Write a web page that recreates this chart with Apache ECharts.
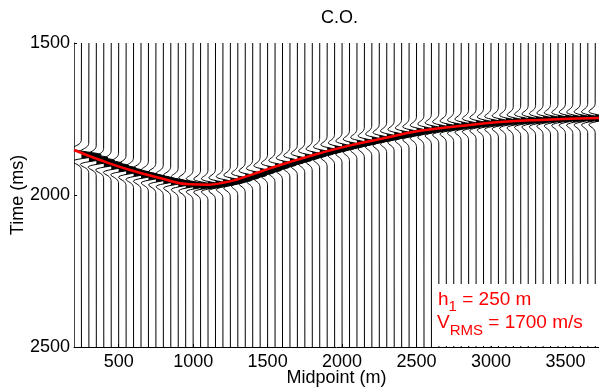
<!DOCTYPE html>
<html><head><meta charset="utf-8">
<script src="https://cdn.jsdelivr.net/npm/echarts@6/dist/echarts.min.js"></script>
<style>html,body{margin:0;padding:0;background:#fff}#c{width:599px;height:387px}</style>
</head><body><div id="c"></div>
<script>
// Trace midpoints (m)
const traceMidpoints = [250,300,350,400,450,500,550,600,650,700,750,800,850,900,950,1000,1050,1100,1150,1200,1250,1300,1350,1400,1450,1500,1550,1600,1650,1700,1750,1800,1850,1900,1950,2000,2050,2100,2150,2200,2250,2300,2350,2400,2450,2500,2550,2600,2650,2700,2750,2800,2850,2900,2950,3000,3050,3100,3150,3200,3250,3300,3350,3400,3450,3500,3550,3600,3650,3700];
// Reflection time on each trace (ms)
const eventTimes = [1868,1878,1887,1896,1904,1912,1920,1927,1933,1939,1945,1951,1956,1961,1965,1968,1969,1968,1965,1961,1956,1950,1942,1934,1925,1917,1908,1900,1892,1885,1877,1870,1863,1856,1850,1844,1838,1832,1827,1821,1816,1811,1806,1801,1797,1792,1788,1784,1781,1778,1775,1772,1770,1767,1765,1763,1761,1759,1758,1756,1755,1754,1752,1751,1750,1749,1749,1748,1748,1747];
// Relative amplitude of each trace
const traceAmps = [1.4,1.35,1.3,1.3,1.25,1.25,1.2,1.2,1.2,1.15,1.15,1.15,1.15,1.1,1.1,1.1,1.1,1.05,1.05,1.05,1.05,1.0,1.0,1.0,1.0,1.0,1.0,1.0,1.0,1.0,1.0,1.0,1.0,1.0,1.0,1.0,1.0,1.0,1.0,1.0,1.0,1.0,1.0,1.0,1.0,1.0,1.0,1.0,1.0,1.0,1.0,1.0,1.0,1.0,1.0,1.0,1.0,1.0,1.0,1.0,1.0,1.0,1.0,1.0,1.0,1.0,1.0,1.0,1.0,1.0];
// Wavelet samples: lag (ms) and amplitude
const waveletLags = [-48,-45.6,-43.2,-40.8,-38.4,-36,-33.6,-31.2,-28.8,-26.4,-24,-21.6,-19.2,-16.8,-14.4,-12,-9.6,-7.2,-4.8,-2.4,0,2.4,4.8,7.2,9.6,12,14.4,16.8,19.2,21.6,24,26.4,28.8,31.2,33.6,36,38.4,40.8,43.2,45.6,48];
const waveletValues = [-0.008,-0.016,-0.027,-0.046,-0.074,-0.114,-0.167,-0.231,-0.302,-0.371,-0.425,-0.446,-0.419,-0.328,-0.170,0.047,0.304,0.565,0.791,0.945,1,0.945,0.791,0.565,0.304,0.047,-0.170,-0.328,-0.419,-0.446,-0.425,-0.371,-0.302,-0.231,-0.167,-0.114,-0.074,-0.046,-0.027,-0.016,-0.008];
// Red moveout curve
const curveMidpoints = [200,375,576,777,979,1100,1200,1300,1400,1500,1600,1700,1986,2255,2523,2792,3060,3329,3725];
const curveTimes = [1852,1885,1918,1944,1965,1966,1960,1948,1932,1915,1899,1884,1845,1816,1789,1773,1760,1753,1747];
// Tick labels
const xTickLabels = [500,1000,1500,2000,2500,3000,3500];
const yTickLabels = [1500,2000,2500];

const FONT = 'Liberation Sans, Arial, Helvetica, sans-serif';
const X_MIN = 200, X_MAX = 3725, T_MIN = 1500, T_MAX = 2500;
const GAIN = 95; // metres per unit amplitude

const chart = echarts.init(document.getElementById('c'), null, {renderer:'canvas'});
chart.setOption({
  animation: false,
  backgroundColor: '#fff',
  title: {text: 'C.O.', left: 316, top: 4, textStyle: {fontFamily: FONT, fontSize: 18, fontWeight: 'normal', color: '#000'}},
  grid: {left: 74, right: 0, top: 43, bottom: 40, containLabel: false, outerBoundsMode: 'none'},
  xAxis: {
    type: 'value', min: X_MIN, max: X_MAX,
    name: 'Midpoint (m)', nameLocation: 'middle', nameGap: 22, nameMoveOverlap: false,
    nameTextStyle: {fontFamily: FONT, fontSize: 18, color: '#000'},
    axisLine: {show: true, onZero: false, lineStyle: {color: '#000', width: 1}},
    axisTick: {show: true, inside: true, length: 3, customValues: xTickLabels, lineStyle: {color: '#000'}},
    axisLabel: {customValues: xTickLabels, formatter: v => String(v), fontFamily: FONT, fontSize: 18, color: '#000', margin: 6},
    splitLine: {show: false}
  },
  yAxis: {
    type: 'value', min: T_MIN, max: T_MAX, inverse: true,
    name: 'Time (ms)', nameLocation: 'middle', nameGap: 47, nameRotate: 90, nameMoveOverlap: false,
    nameTextStyle: {fontFamily: FONT, fontSize: 18, color: '#000'},
    axisLine: {show: true, lineStyle: {color: '#444', width: 1}},
    axisTick: {show: true, inside: true, length: 3, customValues: yTickLabels, lineStyle: {color: '#000'}},
    axisLabel: {customValues: yTickLabels, formatter: v => String(v), fontFamily: FONT, fontSize: 18, color: '#000', margin: 4},
    splitLine: {show: false}
  },
  series: [
    {
      type: 'custom',
      clip: true,
      z: 2,
      encode: {x: 0, y: 1},
      data: traceMidpoints.map((x, i) => [x, eventTimes[i], traceAmps[i]]),
      renderItem: function (params, api) {
        const x0 = api.value(0), t0 = api.value(1), a = api.value(2);
        const line = [api.coord([x0, T_MIN])];
        const fill = [];
        for (let k = 0; k < waveletLags.length; k++) {
          const d = a * waveletValues[k] * GAIN;
          const t = t0 + waveletLags[k];
          line.push(api.coord([x0 + d, t]));
          if (Math.abs(waveletLags[k]) <= 14.4) fill.push(api.coord([x0 + Math.max(0, d), t]));
        }
        line.push(api.coord([x0, T_MAX]));
        return {type: 'group', children: [
          {type: 'polygon', shape: {points: fill}, style: {fill: '#000', stroke: null}},
          {type: 'polyline', shape: {points: line}, style: {stroke: '#000', lineWidth: 1, fill: null}}
        ]};
      }
    },
    {
      type: 'line', z: 5, smooth: true, showSymbol: false, silent: true,
      data: curveMidpoints.map((x, i) => [x, curveTimes[i]]),
      lineStyle: {color: '#ff0000', width: 2.5}
    }
  ],
  graphic: [
    {type: 'rect', left: 432, top: 284, z: 100, shape: {width: 170, height: 62}, style: {fill: '#fff'}},
    {type: 'text', left: 438, top: 290, z: 101, style: {
      text: 'h{s|1} = 250 m', fill: '#ff0000', fontFamily: FONT, fontSize: 19,
      rich: {s: {fontFamily: FONT, fontSize: 15, fill: '#ff0000', padding: [14, 0, 0, 0]}}
    }},
    {type: 'text', left: 437, top: 313, z: 101, style: {
      text: 'V{s|RMS} = 1700 m/s', fill: '#ff0000', fontFamily: FONT, fontSize: 19,
      rich: {s: {fontFamily: FONT, fontSize: 15, fill: '#ff0000', padding: [16, 0, 0, 0]}}
    }}
  ]
});
</script>
</body></html>
